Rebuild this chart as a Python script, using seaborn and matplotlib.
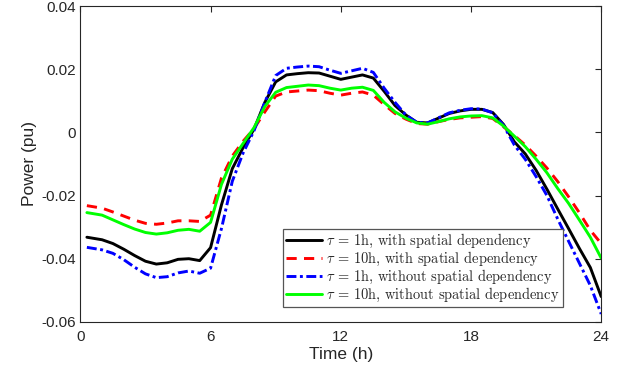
import matplotlib
matplotlib.use('Agg')
import matplotlib.pyplot as plt
import seaborn as sns

# hours
time_h = [0.3, 1.0, 1.5, 2.0, 2.5, 3.0, 3.5, 4.0, 4.5, 5.0, 5.5, 6.0, 6.5, 7.0, 7.5, 8.0,
          8.5, 9.0, 9.5, 10.0, 10.5, 11.0, 11.5, 12.0, 12.5, 13.0, 13.5, 14.0, 14.5, 15.0,
          15.5, 16.0, 16.5, 17.0, 17.5, 18.0, 18.5, 19.0, 19.5, 20.0, 20.5, 21.0, 21.5,
          22.0, 22.5, 23.0, 23.5, 24.0]

# tau = 1h, with spatial dependency
p_1h_dep = [-0.0332, -0.0340, -0.0352, -0.0370, -0.0390, -0.0408, -0.0417, -0.0413, -0.0402,
            -0.0400, -0.0406, -0.0365, -0.0230, -0.0115, -0.0048, 0.0010, 0.0095, 0.0160,
            0.0182, 0.0186, 0.0189, 0.0188, 0.0178, 0.0168, 0.0175, 0.0182, 0.0172, 0.0130,
            0.0085, 0.0055, 0.0032, 0.0030, 0.0045, 0.0060, 0.0068, 0.0073, 0.0073, 0.0063,
            0.0025, -0.0030, -0.0068, -0.0120, -0.0180, -0.0243, -0.0305, -0.0368, -0.0428,
            -0.0520]
# tau = 10h, with spatial dependency
p_10h_dep = [-0.0232, -0.0240, -0.0252, -0.0265, -0.0278, -0.0288, -0.0291, -0.0287, -0.0280,
             -0.0280, -0.0282, -0.0262, -0.0145, -0.0075, -0.0028, 0.0012, 0.0065, 0.0115,
             0.0128, 0.0131, 0.0134, 0.0132, 0.0124, 0.0118, 0.0124, 0.0128, 0.0118, 0.0088,
             0.0060, 0.0042, 0.0028, 0.0026, 0.0034, 0.0041, 0.0046, 0.0048, 0.0050, 0.0044,
             0.0018, -0.0010, -0.0040, -0.0075, -0.0113, -0.0156, -0.0204, -0.0255, -0.0310,
             -0.0352]
# tau = 1h, without spatial dependency
p_1h_nodep = [-0.0364, -0.0372, -0.0383, -0.0403, -0.0427, -0.0448, -0.0460, -0.0457, -0.0445,
              -0.0439, -0.0446, -0.0430, -0.0305, -0.0155, -0.0065, 0.0005, 0.0095, 0.0180,
              0.0203, 0.0207, 0.0210, 0.0208, 0.0197, 0.0187, 0.0195, 0.0203, 0.0190, 0.0140,
              0.0095, 0.0055, 0.0032, 0.0030, 0.0046, 0.0062, 0.0070, 0.0075, 0.0074, 0.0062,
              0.0022, -0.0040, -0.0085, -0.0140, -0.0200, -0.0275, -0.0345, -0.0415, -0.0485,
              -0.0575]
# tau = 10h, without spatial dependency
p_10h_nodep = [-0.0254, -0.0262, -0.0277, -0.0292, -0.0306, -0.0317, -0.0322, -0.0318, -0.0310,
               -0.0307, -0.0313, -0.0285, -0.0165, -0.0085, -0.0035, 0.0015, 0.0082, 0.0127,
               0.0142, 0.0146, 0.0150, 0.0148, 0.0140, 0.0134, 0.0140, 0.0143, 0.0133, 0.0095,
               0.0065, 0.0045, 0.0030, 0.0026, 0.0034, 0.0043, 0.0049, 0.0052, 0.0053, 0.0046,
               0.0020, -0.0012, -0.0045, -0.0085, -0.0128, -0.0178, -0.0225, -0.0278, -0.0332,
               -0.0398]

labels = [r'$\tau$ = 1h, with spatial dependency',
          r'$\tau$ = 10h, with spatial dependency',
          r'$\tau$ = 1h, without spatial dependency',
          r'$\tau$ = 10h, without spatial dependency']

x_ticks = [0, 6, 12, 18, 24]
y_ticks = [-0.06, -0.04, -0.02, 0, 0.02, 0.04]
y_tick_labels = ['-0.06', '-0.04', '-0.02', '0', '0.02', '0.04']


def main():
    sns.set_theme(style='white')
    plt.rcParams['font.family'] = ['Liberation Sans', 'DejaVu Sans']
    plt.rcParams['mathtext.fontset'] = 'cm'
    plt.rcParams['lines.scale_dashes'] = True

    fig = plt.figure(figsize=(6.23, 3.8), dpi=100)
    ax = fig.add_axes([0.129, 0.153, 0.836, 0.831])

    series = [p_1h_dep, p_10h_dep, p_1h_nodep, p_10h_nodep]
    colors = ['black', '#ff0000', '#0000ff', '#00ff00']
    dashes = [None, (3.5, 2.5), (3.4, 1.2, 1.0, 1.2), None]
    for vals, col, dash, lab in zip(series, colors, dashes, labels):
        sns.lineplot(x=time_h, y=vals, color=col, linewidth=2.1, label=lab, ax=ax)
        if dash is not None:
            ax.lines[-1].set_dashes(dash)

    ax.set_xlim(0, 24)
    ax.set_ylim(-0.06, 0.04)
    ax.set_xticks(x_ticks)
    ax.set_xticklabels([str(t) for t in x_ticks])
    ax.set_yticks(y_ticks)
    ax.set_yticklabels(y_tick_labels)
    ax.tick_params(direction='in', length=4, width=0.8, colors='#262626',
                   labelsize=11, top=True, right=True, labelcolor='#262626')
    ax.tick_params(axis='x', pad=6)
    for sp in ax.spines.values():
        sp.set_color('#262626')
        sp.set_linewidth(0.8)
    ax.set_xlabel('Time (h)', fontsize=12.5, color='#262626', labelpad=2)
    ax.set_ylabel('Power (pu)', fontsize=12.5, color='#262626', labelpad=3)

    leg = ax.legend(loc='lower left', bbox_to_anchor=(0.389, 0.047), borderaxespad=0,
                    prop={'family': 'cmr10', 'size': 10.4}, frameon=True, fancybox=False,
                    framealpha=1, edgecolor='#555555', handlelength=2.5,
                    handletextpad=0.3, labelspacing=0.0, borderpad=0.2)
    leg.get_frame().set_linewidth(0.9)

    fig.savefig('out.png', dpi=100)


if __name__ == '__main__':
    main()
